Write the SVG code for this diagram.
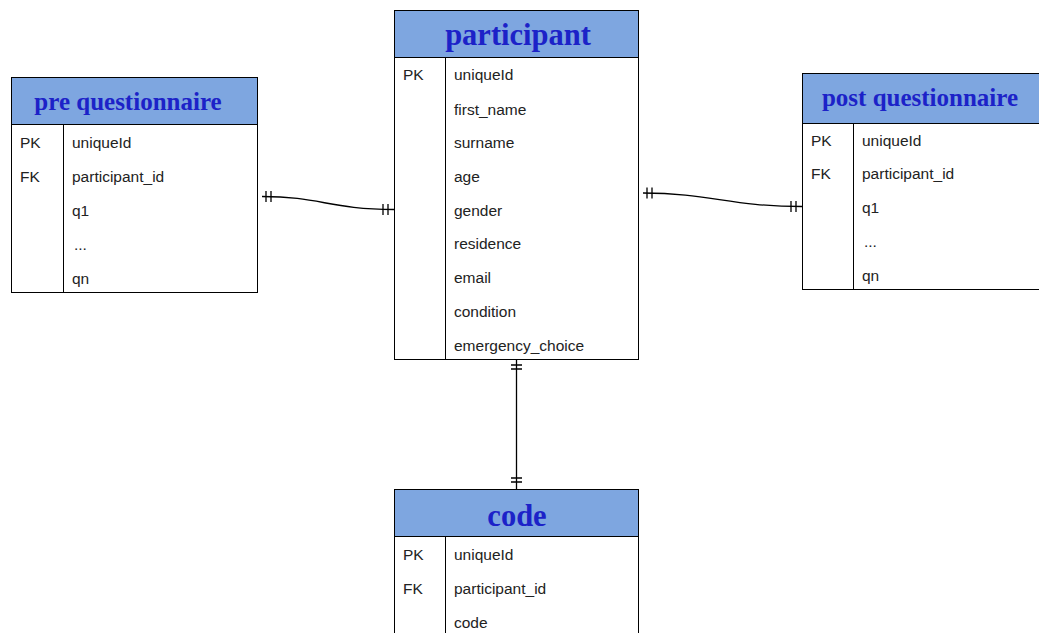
<svg xmlns="http://www.w3.org/2000/svg" width="1039" height="633" viewBox="0 0 1039 633">
<style>
.box{fill:#fff;stroke:#000;stroke-width:1}
.hdr{fill:#7ea6e0;stroke:#000;stroke-width:1}
.div{stroke:#000;stroke-width:1}
.t{font-family:"Liberation Serif",serif;font-weight:bold;fill:#1c22c8;text-anchor:middle}
.f{font-family:"Liberation Sans",Arial,sans-serif;font-size:15.5px;fill:#222}
.c{fill:none;stroke:#000;stroke-width:1.3}
</style>
<rect width="1039" height="633" fill="#fff"/>
<g id="connectors">
<path class="c" d="M262,196.5 C320,196.5 330,209.5 394,209.5"/>
<path class="c" d="M266,191 v11 M271,191 v11 M383,204 v11 M388,204 v11"/>
<path class="c" d="M643,193 C710,193 730,206.5 802,206.5"/>
<path class="c" d="M647,187.5 v11 M652,187.5 v11 M791,201 v11 M796,201 v11"/>
<path class="c" d="M516.5,360 V489"/>
<path class="c" d="M511,365 h11 M511,369 h11 M511,478 h11 M511,482 h11"/>
</g>
<g id="participant">
<rect class="box" x="394.5" y="10.5" width="244" height="349"/>
<rect class="hdr" x="394.5" y="10.5" width="244" height="47"/>
<line class="div" x1="445.5" y1="57.5" x2="445.5" y2="359.5"/>
<text class="t" x="518" y="45" font-size="30.5">participant</text>
<text class="f" x="403" y="80">PK</text>
<text class="f" x="454" y="80">uniqueId</text>
<text class="f" x="454" y="115">first_name</text>
<text class="f" x="454" y="148">surname</text>
<text class="f" x="454" y="182">age</text>
<text class="f" x="454" y="216">gender</text>
<text class="f" x="454" y="249">residence</text>
<text class="f" x="454" y="283">email</text>
<text class="f" x="454" y="317">condition</text>
<text class="f" x="454" y="351">emergency_choice</text>
</g>
<g id="pre">
<rect class="box" x="11.5" y="77.5" width="246" height="215"/>
<rect class="hdr" x="11.5" y="77.5" width="246" height="47"/>
<line class="div" x1="63.5" y1="124.5" x2="63.5" y2="292.5"/>
<text class="t" x="128" y="110" font-size="25">pre questionnaire</text>
<text class="f" x="20" y="148">PK</text>
<text class="f" x="72" y="148">uniqueId</text>
<text class="f" x="20" y="182">FK</text>
<text class="f" x="72" y="182">participant_id</text>
<text class="f" x="72" y="216">q1</text>
<text class="f" x="74" y="250">...</text>
<text class="f" x="72" y="284">qn</text>
</g>
<g id="post">
<rect class="box" x="802.5" y="73.5" width="250" height="216"/>
<rect class="hdr" x="802.5" y="73.5" width="250" height="50"/>
<line class="div" x1="853.5" y1="123.5" x2="853.5" y2="289.5"/>
<text class="t" x="920" y="106" font-size="25">post questionnaire</text>
<text class="f" x="811" y="146">PK</text>
<text class="f" x="862" y="146">uniqueId</text>
<text class="f" x="811" y="179">FK</text>
<text class="f" x="862" y="179">participant_id</text>
<text class="f" x="862" y="213">q1</text>
<text class="f" x="864" y="247">...</text>
<text class="f" x="862" y="281">qn</text>
</g>
<g id="code">
<rect class="box" x="394.5" y="489.5" width="244" height="160"/>
<rect class="hdr" x="394.5" y="489.5" width="244" height="47"/>
<line class="div" x1="445.5" y1="536.5" x2="445.5" y2="650"/>
<text class="t" x="517" y="526" font-size="30.5">code</text>
<text class="f" x="403" y="560">PK</text>
<text class="f" x="454" y="560">uniqueId</text>
<text class="f" x="403" y="594">FK</text>
<text class="f" x="454" y="594">participant_id</text>
<text class="f" x="454" y="628">code</text>
</g>
</svg>
